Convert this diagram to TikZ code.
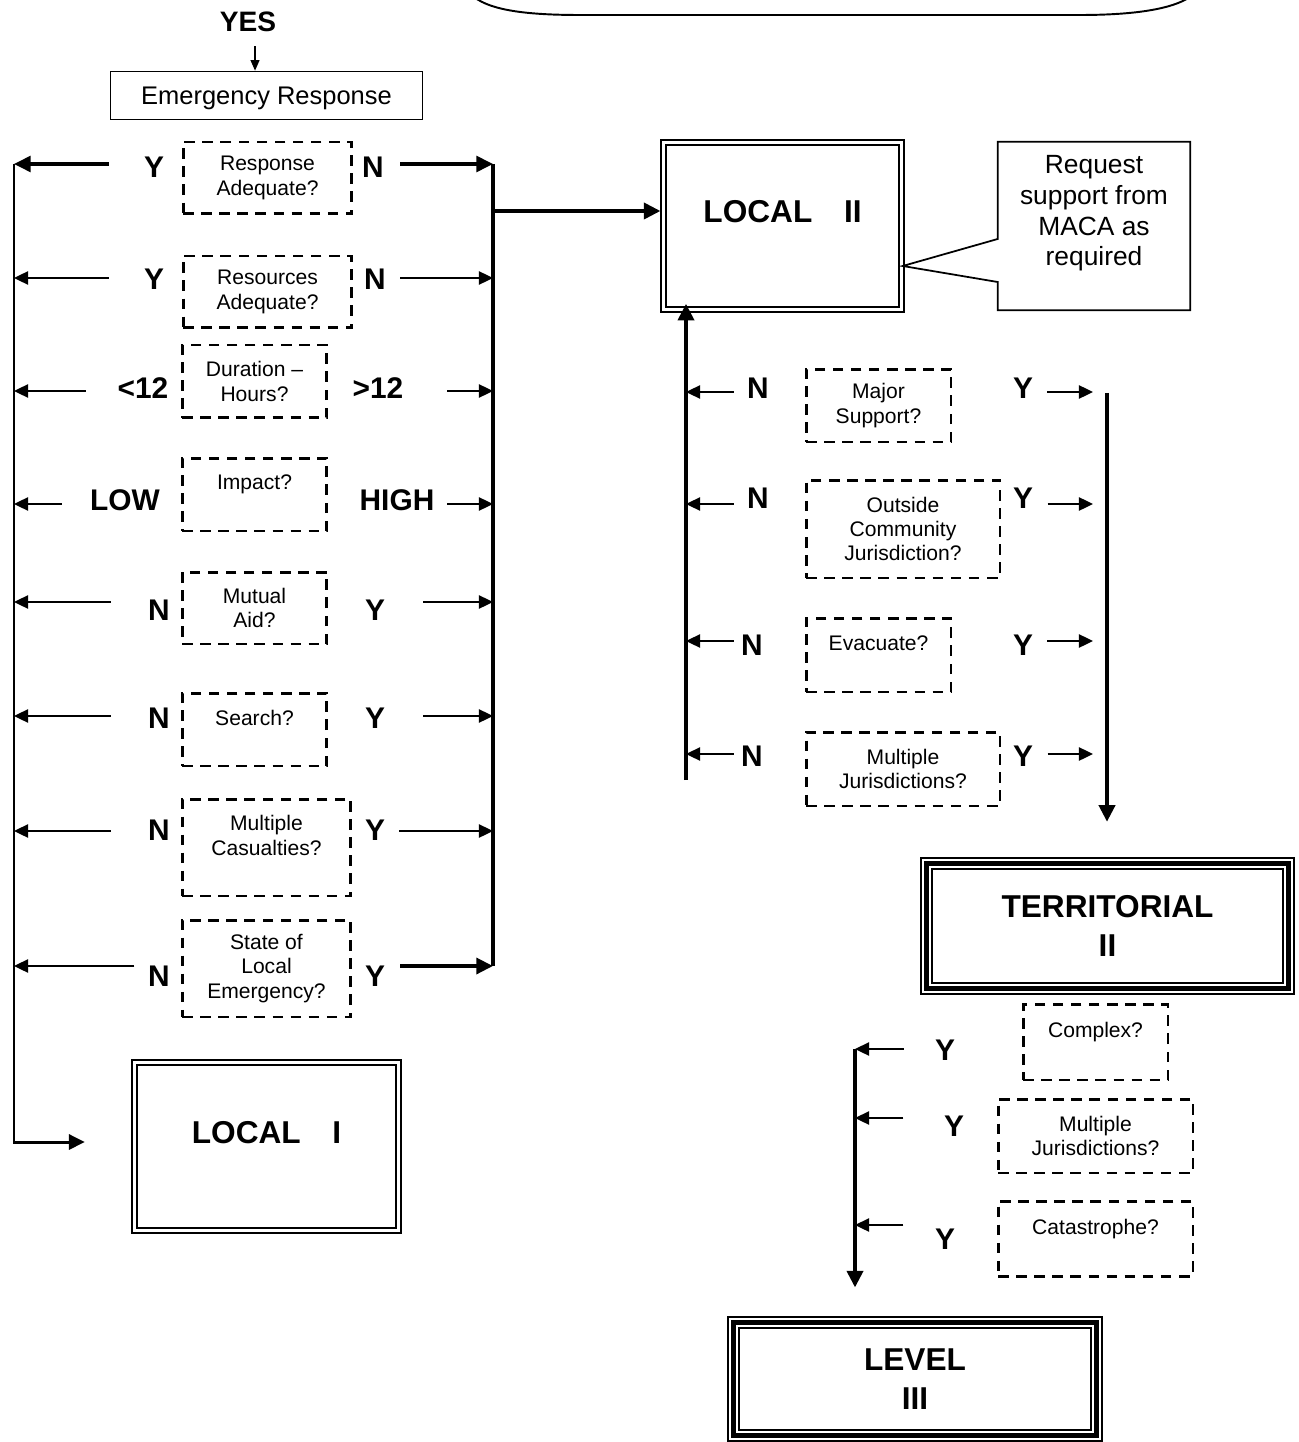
\documentclass[tikz,border=0pt]{standalone}
\usepackage{fontspec}
\setmainfont{Liberation Sans}
\usepackage{tikz}
\usetikzlibrary{arrows.meta}

\begin{document}
\begin{tikzpicture}[x=0.02cm, y=-0.02cm,
  question/.style={draw, line width=1.7pt, dash pattern=on 6pt off 4.3pt, align=center, inner sep=0pt, font=\fontsize{12}{13.8}\selectfont},
  yn/.style={inner sep=0pt, font=\fontsize{17}{20}\selectfont\bfseries},
  localbox/.style={draw, line width=1.4pt, double, double distance=1.2pt, text depth=16pt, font=\fontsize{18}{22}\selectfont\bfseries},
  bigbox/.style={draw, line width=7.4pt, postaction={draw=white, line width=5.1pt}, postaction={draw, line width=2.8pt}, align=center, font=\fontsize{18}{22}\selectfont\bfseries},
  thinarrow/.style={line width=1.1pt, -{Triangle[length=8pt, width=7.5pt]}},
  thickarrow/.style={line width=2.2pt, -{Triangle[length=9.5pt, width=9pt]}},
  bus/.style={line width=2.8pt}]
\useasboundingbox (0,0) rectangle (1298,1442);
\clip (0,0) rectangle (1298,1442);

% box cut off at the top
\draw[line width=1.1pt] (474,-3) .. controls (492,11) and (530,15) .. (580,15) -- (1080,15) .. controls (1135,15) and (1172,9) .. (1190,-3);

% start
\node[inner sep=0pt, font=\fontsize{16}{19}\selectfont\bfseries] (yes) at (248,22) {YES};
\node[draw, line width=0.9pt, minimum width=6.24cm, minimum height=0.96cm, inner sep=0pt, text depth=0pt, font=\fontsize{14.5}{17}\selectfont] (er) at (266.5,95.5) {Emergency Response};
\draw[line width=0.8pt, -{Triangle[length=6pt, width=5pt]}, shorten <=8pt] ([xshift=4pt]yes.south) -- ([xshift=4pt]yes.south |- er.north);

% left questions
\node[question, minimum width=3.38cm, minimum height=1.44cm] (q1) at (267.5,178) {Response\\Adequate?};
\node[question, minimum width=3.38cm, minimum height=1.44cm] (q2) at (267.5,292) {Resources\\Adequate?};
\node[question, minimum width=2.9cm, minimum height=1.46cm] (q3) at (254.5,381.5) {Duration –\\Hours?};
\node[question, minimum width=2.9cm, minimum height=1.46cm] (q4) at (254.5,494.5) {Impact?\\\mbox{}};
\node[question, minimum width=2.9cm, minimum height=1.44cm] (q5) at (254.5,608) {Mutual\\Aid?};
\node[question, minimum width=2.9cm, minimum height=1.46cm] (q6) at (254.5,729.5) {Search?\\\mbox{}};
\node[question, minimum width=3.38cm, minimum height=1.94cm] (q7) at (266.5,847.5) {Multiple\\Casualties?\\\mbox{}};
\node[question, minimum width=3.38cm, minimum height=1.94cm] (q8) at (266.5,968.5) {State of\\Local\\Emergency?};

\node[yn] (ll1) at (154,167) {Y};
\node[yn] (lr1) at (373,167) {N};
\node[yn] (ll2) at (154,279) {Y};
\node[yn] (lr2) at (375,279) {N};
\node[yn] (ll3) at (143,388) {<12};
\node[yn] (lr3) at (378,388) {>12};
\node[yn] (ll4) at (125,500) {LOW};
\node[yn] (lr4) at (397,500) {HIGH};
\node[yn] (ll5) at (159,610) {N};
\node[yn] (lr5) at (375,610) {Y};
\node[yn] (ll6) at (159,718) {N};
\node[yn] (lr6) at (375,718) {Y};
\node[yn] (ll7) at (159,830) {N};
\node[yn] (lr7) at (375,830) {Y};
\node[yn] (ll8) at (159,976) {N};
\node[yn] (lr8) at (375,976) {Y};

\node[localbox, minimum width=5.28cm, minimum height=3.36cm] (loc1) at (266.5,1146.5) {LOCAL\hspace{1em}I};

% left and right buses
\coordinate (l1) at (14,164);  \coordinate (r1) at (493,164);
\coordinate (l2) at (14,278);  \coordinate (r2) at (493,278);
\coordinate (l3) at (14,391);  \coordinate (r3) at (493,391);
\coordinate (l4) at (14,504);  \coordinate (r4) at (493,504);
\coordinate (l5) at (14,602);  \coordinate (r5) at (493,602);
\coordinate (l6) at (14,716);  \coordinate (r6) at (493,716);
\coordinate (l7) at (14,831);  \coordinate (r7) at (493,831);
\coordinate (l8) at (14,966);  \coordinate (r8) at (493,966);
\coordinate (l9) at (14,1142);
\coordinate (jn) at (493,211);

\draw[thickarrow, line width=1.9pt, shorten <=41.5pt] (q1.west |- l1) -- (l1);
\draw[thickarrow, line width=1.9pt, shorten <=26.7pt] (q1.east |- r1) -- (r1);
\draw[thinarrow, shorten <=41.5pt] (q2.west |- l2) -- (l2);
\draw[thinarrow, shorten <=26.7pt] (q2.east |- r2) -- (r2);
\draw[thinarrow, shorten <=54pt] (q3.west |- l3) -- (l3);
\draw[thinarrow, shorten <=67.7pt] (q3.east |- r3) -- (r3);
\draw[thinarrow, shorten <=67.7pt] (q4.west |- l4) -- (l4);
\draw[thinarrow, shorten <=67.7pt] (q4.east |- r4) -- (r4);
\draw[thinarrow, shorten <=39.8pt] (q5.west |- l5) -- (l5);
\draw[thinarrow, shorten <=54pt] (q5.east |- r5) -- (r5);
\draw[thinarrow, shorten <=39.8pt] (q6.west |- l6) -- (l6);
\draw[thinarrow, shorten <=54pt] (q6.east |- r6) -- (r6);
\draw[thinarrow, shorten <=39.8pt] (q7.west |- l7) -- (l7);
\draw[thinarrow, shorten <=26.7pt] (q7.east |- r7) -- (r7);
\draw[thinarrow, shorten <=26.2pt] (q8.west |- l8) -- (l8);
\draw[thickarrow, shorten <=27.3pt] (q8.east |- r8) -- (r8);

\draw[line width=1.7pt, -{Triangle[length=9pt, width=8.5pt]}, shorten >=27.6pt] (l1) -- (l9) -- (l9 -| loc1.west);
\draw[bus] (r1) -- (r8);

% local II and support request
\node[localbox, minimum width=4.76cm, minimum height=3.34cm] (loc2) at (782.5,226) {LOCAL\hspace{1em}II};
\draw[thickarrow, line width=2.8pt, shorten >=1pt] (jn) -- (jn -| loc2.west);

\node[align=center, minimum width=3.84cm, minimum height=3.36cm, inner sep=0pt, font=\fontsize{15}{17.5}\selectfont] (req) at (1094,226) {Request\\support from\\MACA as\\required\\\mbox{}};
\draw[line width=1pt] (req.north west) -- (req.north east) -- (req.south east) -- (req.south west) -- (req.west |- 0,282) -- (loc2.east |- 0,266) -- (req.west |- 0,239) -- cycle;

% right questions
\node[question, minimum width=2.9cm, minimum height=1.46cm] (s1) at (878.5,405.5) {Major\\Support?};
\node[question, minimum width=3.88cm, minimum height=1.96cm] (s2) at (903,529) {Outside\\Community\\Jurisdiction?};
\node[question, minimum width=2.9cm, minimum height=1.48cm] (s3) at (878.5,655) {Evacuate?\\\mbox{}};
\node[question, minimum width=3.88cm, minimum height=1.48cm] (s4) at (903,769) {Multiple\\Jurisdictions?};

\node[yn] (ml1) at (758,388) {N};
\node[yn] (mr1) at (1023,388) {Y};
\node[yn] (ml2) at (758,498) {N};
\node[yn] (mr2) at (1023,498) {Y};
\node[yn] (ml3) at (752,645) {N};
\node[yn] (mr3) at (1023,645) {Y};
\node[yn] (ml4) at (752,756) {N};
\node[yn] (mr4) at (1023,756) {Y};

\coordinate (m0) at (686,780);
\coordinate (m1) at (686,392);  \coordinate (e1) at (1093,392);
\coordinate (m2) at (686,504);  \coordinate (e2) at (1093,504);
\coordinate (m3) at (686,641);  \coordinate (e3) at (1093,641);
\coordinate (m4) at (686,754);  \coordinate (e4) at (1093,754);
\coordinate (t0) at (1107,393);

\draw[thinarrow, shorten <=40.4pt] (s1.west |- m1) -- (m1);
\draw[thinarrow, shorten <=54pt] (s1.east |- e1) -- (e1);
\draw[thinarrow, shorten <=40.4pt] (s2.west |- m2) -- (m2);
\draw[thinarrow, shorten <=26.2pt] (s2.east |- e2) -- (e2);
\draw[thinarrow, shorten <=40.4pt] (s3.west |- m3) -- (m3);
\draw[thinarrow, shorten <=54pt] (s3.east |- e3) -- (e3);
\draw[thinarrow, shorten <=40.4pt] (s4.west |- m4) -- (m4);
\draw[thinarrow, shorten <=26.2pt] (s4.east |- e4) -- (e4);
\draw[thickarrow, line width=2.8pt, shorten >=-4pt] (m0) -- (m0 |- loc2.south);

% territorial and level III
\node[bigbox, minimum width=7.24cm, minimum height=2.5cm] (terr) at (1107.5,926) {TERRITORIAL\\II};
\draw[thickarrow, line width=2.8pt, shorten >=20pt] (t0) -- (t0 |- terr.north);

\node[question, minimum width=2.9cm, minimum height=1.52cm] (c1) at (1095.5,1042) {Complex?\\\mbox{}};
\node[question, minimum width=3.9cm, minimum height=1.48cm] (c2) at (1095.5,1136) {Multiple\\Jurisdictions?};
\node[question, minimum width=3.9cm, minimum height=1.5cm] (c3) at (1095.5,1238.5) {Catastrophe?\\\mbox{}};

\node[yn] (bl1) at (945,1050) {Y};
\node[yn] (bl2) at (954,1126) {Y};
\node[yn] (bl3) at (945,1239) {Y};

\coordinate (b1) at (855,1049);
\coordinate (b2) at (855,1118);
\coordinate (b3) at (855,1225);
\draw[thinarrow, shorten <=67pt] (c1.west |- b1) -- (b1);
\draw[thinarrow, shorten <=53pt] (c2.west |- b2) -- (b2);
\draw[thinarrow, shorten <=53pt] (c3.west |- b3) -- (b3);

\node[bigbox, minimum width=7.26cm, minimum height=2.26cm] (lev) at (915,1379) {LEVEL\\III};
\draw[thickarrow, line width=2.8pt, shorten >=16.2pt] (b1) -- (b1 |- lev.north);
\end{tikzpicture}
\end{document}
